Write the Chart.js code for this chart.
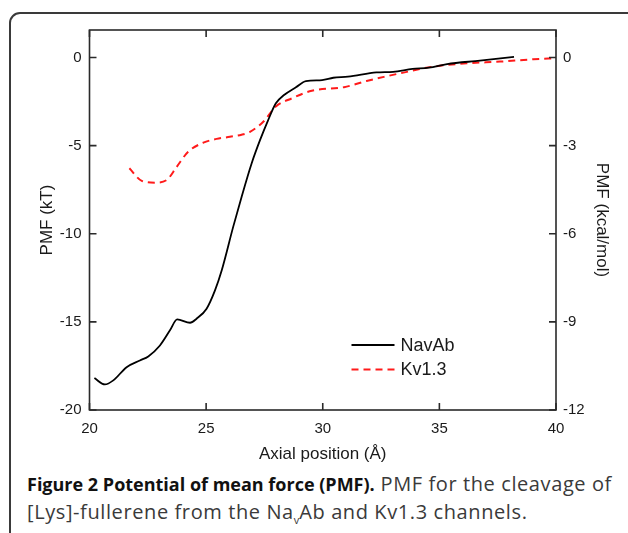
<!DOCTYPE html>
<html>
<head>
<meta charset="utf-8">
<script src="https://cdn.jsdelivr.net/npm/chart.js@4.4.1/dist/chart.umd.min.js"></script>
<style>
  body { margin: 0; background: #fff; width: 628px; height: 533px; overflow: hidden; position: relative; }
  #box { position: absolute; left: 9px; top: 12px; width: 640px; height: 560px;
         border: 2px solid #3a3a3a; border-radius: 11px; box-sizing: border-box; }
  #chart { position: absolute; left: 0; top: 0; }
  #caption { position: absolute; left: 27px; top: 470px; font-family: "Open Sans", sans-serif;
             font-size: 20px; letter-spacing: 0.6px; line-height: 27px; color: #3a3a3a; white-space: nowrap; }
  #caption b { color: #111; font-size: 18px; letter-spacing: 0; }
  #caption sub { font-size: 11px; line-height: 0; letter-spacing: 0; }
</style>
</head>
<body>
<div id="box"></div>
<canvas id="chart" width="628" height="470"></canvas>
<div id="caption"><b>Figure 2 Potential of mean force (PMF).</b> PMF for the cleavage of<br>[Lys]-fullerene from the Na<sub>v</sub>Ab and Kv1.3 channels.</div>
<script>
// NavAb, PMF in kT (left axis)
const navX = [20.21, 20.66, 21.02, 21.59, 22.16, 22.52, 23.02, 23.45, 23.76, 24.31, 24.59, 25.02, 25.38, 25.67,
  26.16, 26.52, 26.95, 27.31, 27.66, 27.99, 28.34, 28.85, 29.28, 29.97, 30.45, 31.08, 32.3, 33.02, 33.85,
  34.55, 35.33, 36.74, 38.2]
const navY = [-18.19, -18.55, -18.32, -17.57, -17.19, -16.96, -16.34, -15.48, -14.86, -15.05, -14.82, -14.25,
  -13.21, -12.07, -9.61, -7.91, -6.01, -4.69, -3.55, -2.6, -2.13, -1.69, -1.34, -1.28, -1.15, -1.09, -0.85,
  -0.81, -0.65, -0.58, -0.37, -0.18, 0.03]

// Kv1.3, PMF in kcal/mol (right axis)
const kvX = [21.71, 22.24, 22.81, 23.31, 23.74, 24.23, 24.88, 25.45, 26.02, 26.52, 26.88, 27.45, 27.99, 28.68,
  29.53, 30.91, 31.88, 32.62, 33.31, 34.74, 36.17, 37.6, 39.03, 39.95]
const kvY = [-3.77, -4.2, -4.26, -4.17, -3.72, -3.21, -2.9, -2.77, -2.7, -2.63, -2.53, -2.19, -1.67, -1.39,
  -1.13, -1.01, -0.8, -0.66, -0.54, -0.31, -0.2, -0.14, -0.06, -0.03]

const xTicks = [20, 25, 30, 35, 40]
const leftTicks = [0, -5, -10, -15, -20]
const rightTicks = [0, -3, -6, -9, -12]

const seriesNames = ['NavAb', 'Kv1.3']

const AXIS_FONT = 'Liberation Sans, Arial, sans-serif'
const TICK_LEN = 7

const toPoints = (xs, ys) => xs.map((x, i) => ({x, y: ys[i]}))
const fixTicks = (values) => (scale) => { scale.ticks = values.map(v => ({value: v})) }

// frame, inward ticks and the in-plot legend
const framePlugin = {
  id: 'frame',
  afterDraw(chart) {
    const {ctx, chartArea: a, scales} = chart
    ctx.save()
    ctx.strokeStyle = '#2a2a2a'
    ctx.lineWidth = 1.6
    ctx.strokeRect(a.left, a.top, a.right - a.left, a.bottom - a.top)
    ctx.beginPath()
    xTicks.forEach(v => {
      const px = scales.x.getPixelForValue(v)
      ctx.moveTo(px, a.bottom); ctx.lineTo(px, a.bottom - TICK_LEN)
      ctx.moveTo(px, a.top); ctx.lineTo(px, a.top + TICK_LEN)
    })
    leftTicks.forEach(v => {
      const py = scales.y.getPixelForValue(v)
      ctx.moveTo(a.left, py); ctx.lineTo(a.left + TICK_LEN, py)
    })
    rightTicks.forEach(v => {
      const py = scales.y2.getPixelForValue(v)
      ctx.moveTo(a.right, py); ctx.lineTo(a.right - TICK_LEN, py)
    })
    ctx.stroke()

    // legend
    const lx = a.left + 262, ly = a.top + 315
    chart.data.datasets.forEach((ds, i) => {
      const y = ly + i * 24.5
      ctx.beginPath()
      ctx.strokeStyle = ds.borderColor
      ctx.lineWidth = ds.borderWidth
      ctx.setLineDash(ds.borderDash || [])
      ctx.moveTo(lx, y); ctx.lineTo(lx + 43, y)
      ctx.stroke()
      ctx.setLineDash([])
      ctx.fillStyle = '#1a1a1a'
      ctx.font = '18px ' + AXIS_FONT
      ctx.textBaseline = 'middle'
      ctx.fillText(ds.label, lx + 49, y + 1)
    })
    ctx.restore()
  }
}

const chart = new Chart(document.getElementById('chart'), {
  type: 'line',
  data: {
    datasets: [
      {
        label: seriesNames[0],
        data: toPoints(navX, navY),
        yAxisID: 'y',
        borderColor: '#000',
        borderWidth: 1.8,
        pointRadius: 0,
        cubicInterpolationMode: 'monotone'
      },
      {
        label: seriesNames[1],
        data: toPoints(kvX, kvY),
        yAxisID: 'y2',
        borderColor: '#ff1a1a',
        borderWidth: 2,
        borderDash: [7, 5],
        pointRadius: 0,
        cubicInterpolationMode: 'monotone'
      }
    ]
  },
  options: {
    responsive: false,
    animation: false,
    devicePixelRatio: 1,
    layout: {padding: {top: 30, left: 0, right: 0, bottom: 0}},
    plugins: {legend: {display: false}, tooltip: {enabled: false}},
    scales: {
      x: {
        type: 'linear', min: 20, max: 40,
        afterBuildTicks: fixTicks(xTicks),
        afterFit: s => { s.height = 60 },
        grid: {display: false, drawTicks: false},
        border: {display: false},
        ticks: {padding: 10, color: '#1a1a1a', font: {family: AXIS_FONT, size: 15}, maxRotation: 0},
        title: {display: true, text: 'Axial position (Å)', color: '#1a1a1a',
          font: {family: AXIS_FONT, size: 17}, padding: {top: 0, bottom: 5}}
      },
      y: {
        position: 'left', min: -20, max: 1.56,
        afterBuildTicks: fixTicks(leftTicks),
        afterFit: s => { s.width = 89.5 },
        grid: {display: false, drawTicks: false},
        border: {display: false},
        ticks: {padding: 8, color: '#1a1a1a', font: {family: AXIS_FONT, size: 15}},
        title: {display: true, text: 'PMF (kT)', color: '#1a1a1a',
          font: {family: AXIS_FONT, size: 17}, padding: {top: 37, bottom: 0}}
      },
      y2: {
        position: 'right', min: -12, max: 0.936,
        afterBuildTicks: fixTicks(rightTicks),
        afterFit: s => { s.width = 72 },
        grid: {display: false, drawTicks: false},
        border: {display: false},
        ticks: {padding: 7, color: '#1a1a1a', font: {family: AXIS_FONT, size: 15}},
        title: {display: true, text: 'PMF (kcal/mol)', color: '#1a1a1a',
          font: {family: AXIS_FONT, size: 17}, padding: {top: 16, bottom: 0}}
      }
    }
  },
  plugins: [framePlugin]
})
</script>
</body>
</html>
